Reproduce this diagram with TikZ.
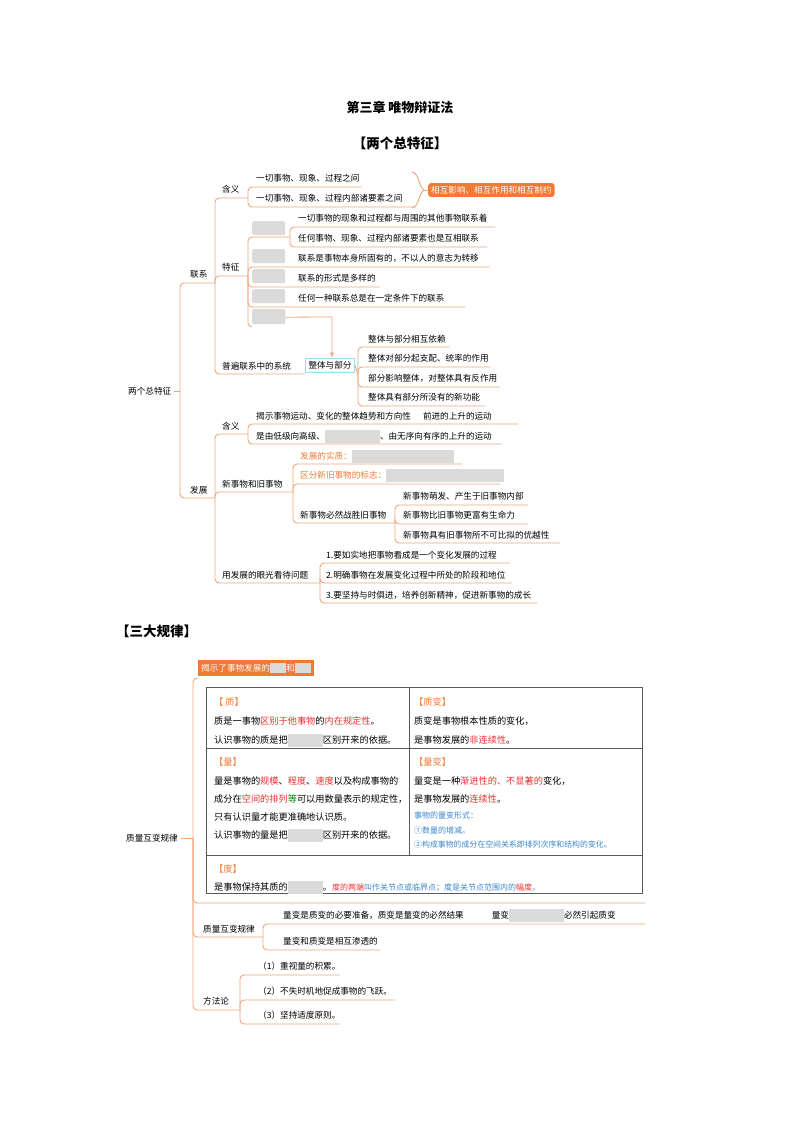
\documentclass[tikz,border=0pt]{standalone}
\usepackage{fontspec}
\setmainfont{Noto Sans CJK SC}
\begin{document}
\definecolor{ol}{HTML}{EDA57A}
\definecolor{ob}{HTML}{EE7A35}
\definecolor{gbc}{HTML}{DADADA}
\definecolor{bl}{HTML}{3A86C8}
\definecolor{rd}{HTML}{E8312F}
\newcommand\gp[1]{\textcolor{gbc}{\rule[-3pt]{#1pt}{13pt}}}
\begin{tikzpicture}[x=1pt,y=-1pt,
  tt/.style={inner sep=0pt,anchor=west,font=\fontsize{8.6}{10}\selectfont},
  tb/.style={inner sep=0pt,anchor=west,font=\fontsize{9.2}{18}\selectfont,align=left},
  ln/.style={draw=ol,line width=0.9pt,rounded corners=4pt},
  gb/.style={fill=gbc,rounded corners=2pt,inner sep=0pt,anchor=north west}]
\useasboundingbox (0,0) rectangle (800,1132);
\node[font=\bfseries\fontsize{13}{15}\selectfont] (title) at (400,107) {第三章\ 唯物辩证法};
\node[font=\bfseries\fontsize{13.5}{15}\selectfont] (h1) at (400,143) {【两个总特征】};
% root
\node[tt] (root) at (128,391) {两个总特征};
\draw[ln] (root.east)++(3,0) -- (180,391);
\draw[ln] (180,391) |- (215,283);
\draw[ln] (180,391) |- (215,498);
\node[tt] (lx) at (190,274) {联系};
\node[tt] (fz) at (190,490) {发展};
% 联系 -> children
\node[tt] (hy1) at (222,189) {含义};
\node[tt] (tz) at (222,267) {特征};
\node[tt] (pb) at (222,366) {普遍联系中的系统};
\draw[ln] (215,283) |- (248,198);
\draw[ln] (215,283) |- (248,276);
\draw[ln] (215,283) |- (305,374);
% 含义 children
\node[tt] (a1) at (256,178) {一切事物、现象、过程之间};
\node[tt] (a2) at (256,198) {一切事物、现象、过程内部诸要素之间};
\draw[ln] (248,198) |- (362,187);
\draw[ln] (248,198) |- (415,207);
\draw[draw=ol,line width=0.9pt] (412,172) .. controls (420,174) and (418,186) .. (424,190) .. controls (418,194) and (420,206) .. (412,208);
\draw[draw=ol,line width=0.9pt] (424,190) -- (428,190);
\node[fill=ob,rounded corners=3pt,text=white,font=\fontsize{8.6}{10}\selectfont,inner xsep=3pt,inner ysep=3pt,anchor=west] (xh) at (428,190) {相互影响、相互作用和相互制约};
% 特征
\node[gb,minimum width=33pt,minimum height=14pt] (g1) at (252,221) {};
\node[gb,minimum width=33pt,minimum height=14pt] (g2) at (252,249) {};
\node[gb,minimum width=33pt,minimum height=14pt] (g3) at (252,269) {};
\node[gb,minimum width=33pt,minimum height=14pt] (g4) at (252,289) {};
\node[gb,minimum width=33pt,minimum height=14pt] (g5) at (252,309) {};
\node[tt] (t1) at (298,218) {一切事物的现象和过程都与周围的其他事物联系着};
\node[tt] (t2) at (298,238) {任何事物、现象、过程内部诸要素也是互相联系};
\node[tt] (t3) at (298,258) {联系是事物本身所固有的，不以人的意志为转移};
\node[tt] (t4) at (298,278) {联系的形式是多样的};
\node[tt] (t5) at (298,298) {任何一种联系总是在一定条件下的联系};
\draw[ln] (248,276) |- (290,237);
\draw[ln] (290,237) |- (495,227);
\draw[ln] (290,237) |- (487,247);
\draw[ln] (248,276) |- (490,267);
\draw[ln] (248,276) |- (380,287);
\draw[ln] (248,276) |- (465,307);
\draw[ln] (248,276) |- (252,327);
\node[gb,minimum width=33pt,minimum height=14pt] (g6) at (252,310) {};
\node[gb,minimum width=33pt,minimum height=14pt] (g6b) at (252,309) {};
% arrow
\node[draw=cyan!40,fill=white,inner sep=3pt,font=\fontsize{8.6}{10}\selectfont] (zt) at (330,365) {整体与部分};
\draw[draw=ol,line width=0.8pt,-latex] (g6.east) -- (332,317) -- (zt.north-|332,0);
% 整体与部分 children
\node[tt] (z1) at (368,339) {整体与部分相互依赖};
\node[tt] (z2) at (368,358) {整体对部分起支配、统率的作用};
\node[tt] (z3) at (368,378) {部分影响整体，对整体具有反作用};
\node[tt] (z4) at (368,397) {整体具有部分所没有的新功能};
\draw[ln] (zt.east) -- (358,374);
\draw[ln] (358,374) |- (450,347);
\draw[ln] (358,374) |- (490,367);
\draw[ln] (358,374) |- (500,387);
\draw[ln] (358,374) |- (485,406);
% 发展
\node[tt] (hy2) at (222,426) {含义};
\node[tt] (xj) at (222,484) {新事物和旧事物};
\node[tt] (yf) at (222,575) {用发展的眼光看待问题};
\draw[ln] (215,498) |- (248,434);
\draw[ln] (215,498) |- (293,492);
\draw[ln] (215,498) |- (320,583);
\node[tt] (b1) at (256,416) {揭示事物运动、变化的整体趋势和方向性\hspace{12pt}前进的上升的运动};
\node[tt] (b2) at (256,436) {是由低级向高级、\gp{55}、由无序向有序的上升的运动};
\draw[ln] (248,434) |- (518,424);
\draw[ln] (248,434) |- (502,444);
\node[tt,text=ob] (c1) at (300,456) {发展的实质：\gp{102}};
\node[tt,text=ob] (c2) at (300,475) {区分新旧事物的标志：\gp{118}};
\node[tt] (c3) at (300,515) {新事物必然战胜旧事物};
\draw[ln] (293,492) |- (462,464);
\draw[ln] (293,492) |- (500,484);
\draw[ln] (293,492) |- (395,523);
\node[tt] (d1) at (403,496) {新事物萌发、产生于旧事物内部};
\node[tt] (d2) at (403,515) {新事物比旧事物更富有生命力};
\node[tt] (d3) at (403,535) {新事物具有旧事物所不可比拟的优越性};
\draw[ln] (395,523) |- (528,505);
\draw[ln] (395,523) |- (528,524);
\draw[ln] (395,523) |- (560,543);
\node[tt] (e1) at (326,555) {1.要如实地把事物看成是一个变化发展的过程};
\node[tt] (e2) at (326,575) {2.明确事物在发展变化过程中所处的阶段和地位};
\node[tt] (e3) at (326,595) {3.要坚持与时俱进，培养创新精神，促进新事物的成长};
\draw[ln] (320,583) |- (510,563);
\draw[ln] (320,583) |- (512,583);
\draw[ln] (320,583) |- (537,603);
% 三大规律
\node[font=\bfseries\fontsize{13.5}{15}\selectfont,anchor=west,inner sep=0pt] (h2) at (116,631) {【三大规律】};
\node[fill=ob,text=white,font=\fontsize{8.6}{10}\selectfont,inner sep=3pt,anchor=west] (hd) at (198,668) {揭示了事物发展的\textcolor{gbc}{\rule[-2pt]{16pt}{10pt}}和\textcolor{gbc}{\rule[-2pt]{16pt}{10pt}}};
\node[tt] (r2) at (126,838) {质量互变规律};
\draw[ln] (r2.east)++(3,0) -- (193,838);
\draw[ln] (hd.south west)++(0,2) -| (193,838);
\draw[ln] (193,838) |- (645,903);
\draw[ln] (193,838) |- (263,937);
\draw[ln] (193,838) |- (240,1010);
% table
\draw[gray!70!black,line width=0.8pt] (206,687) rectangle (642,893);
\draw[gray!70!black,line width=0.6pt] (206,748) -- (642,748) (206,855) -- (642,855) (409,687) -- (409,855);
\node[tb,text=ob] (q0) at (214,702) {【\ 质】};
\node[tb] (q1) at (214,721) {质是一事物\textcolor{rd}{区别于他事物}的\textcolor{rd}{内在规定性}。};
\node[tb] (q2) at (214,740) {认识事物的质是把\gp{35}区别开来的依据。};
\node[tb,text=ob] (zb0) at (414,702) {【质变】};
\node[tb] (zb1) at (414,721) {质变是事物根本性质的变化，};
\node[tb] (zb2) at (414,740) {是事物发展的\textcolor{rd}{非连续性}。};
\node[tb,text=ob] (l0) at (214,762) {【量】};
\node[tb] (l1) at (214,781) {量是事物的\textcolor{rd}{规模}、\textcolor{rd}{程度}、\textcolor{rd}{速度}以及构成事物的};
\node[tb] (l2) at (214,799) {成分在\textcolor{rd}{空间的排列}\textcolor{green!50!black}{等}可以用数量表示的规定性，};
\node[tb] (l3) at (214,817) {只有认识量才能更准确地认识质。};
\node[tb] (l4) at (214,835) {认识事物的量是把\gp{35}区别开来的依据。};
\node[tb,text=ob] (lb0) at (414,762) {【量变】};
\node[tb] (lb1) at (414,781) {量变是一种\textcolor{rd}{渐进性的、不显著的}变化，};
\node[tb] (lb2) at (414,799) {是事物发展的\textcolor{rd}{连续性}。};
\node[tb,text=bl,font=\fontsize{8}{10}\selectfont] (lb3) at (414,815) {事物的量变形式：};
\node[tb,text=bl,font=\fontsize{8}{10}\selectfont] (lb4) at (414,830) {①数量的增减。};
\node[tb,text=bl,font=\fontsize{7.9}{10}\selectfont] (lb5) at (414,844) {②构成事物的成分在空间关系即排列次序和结构的变化。};
\node[tb,text=ob] (du0) at (214,869) {【度】};
\node[tb] (du1) at (214,887) {是事物保持其质的\gp{35}。\textcolor{rd}{\fontsize{8}{10}\selectfont 度的两端}\textcolor{bl}{\fontsize{8}{10}\selectfont 叫作关节点或临界点；度是关节点范围内的}\textcolor{rd}{\fontsize{8}{10}\selectfont 幅度}\textcolor{bl}{\fontsize{8}{10}\selectfont 。}};
% 质量互变规律 branch
\node[tt] (f1) at (203,929) {质量互变规律};
\node[tt] (f2) at (283,915) {量变是质变的必要准备，质变是量变的必然结果\hspace{28pt}量变\gp{55}必然引起质变};
\node[tt] (f3) at (283,941) {量变和质变是相互渗透的};
\draw[ln] (263,937) |- (645,924);
\draw[ln] (263,937) |- (380,950);
\node[tt] (m0) at (203,1001) {方法论};
\node[tt] (m1) at (258,966) {（1）重视量的积累。};
\node[tt] (m2) at (258,991) {（2）不失时机地促成事物的飞跃。};
\node[tt] (m3) at (258,1015) {（3）坚持适度原则。};
\draw[ln] (240,1010) |- (340,975);
\draw[ln] (240,1010) |- (395,1000);
\draw[ln] (240,1010) |- (340,1024);
\end{tikzpicture}
\end{document}
